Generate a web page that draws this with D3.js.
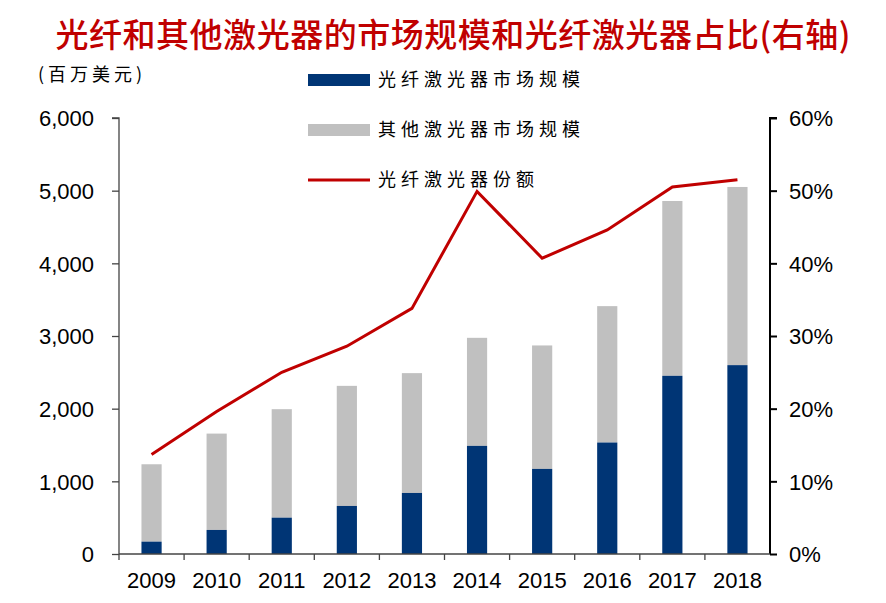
<!DOCTYPE html>
<html>
<head>
<meta charset="utf-8">
<script src="https://cdn.jsdelivr.net/npm/d3@7"></script>
<style>
  html, body { margin: 0; padding: 0; background: #fff; }
  svg { display: block; }
  .tick text { font-family: "Liberation Sans", Arial, sans-serif; font-size: 22px; fill: #000; }
</style>
</head>
<body>
<svg id="chart" width="886" height="603"></svg>
<script>
// data
const years = ["2009", "2010", "2011", "2012", "2013", "2014", "2015", "2016", "2017", "2018"];
const fiberSize = [170, 331, 500, 661, 840, 1488, 1171, 1534, 2452, 2599];
const totalSize = [1235, 1657, 1993, 2314, 2489, 2975, 2870, 3411, 4858, 5051];
const fiberShare = [13.7, 19.6, 25.0, 28.6, 33.8, 49.9, 40.7, 44.6, 50.5, 51.5];
const leftTicks = [0, 1000, 2000, 3000, 4000, 5000, 6000];
const rightTicks = [0, 10, 20, 30, 40, 50, 60];
const legendNames = ["光纤激光器市场规模", "其他激光器市场规模", "光纤激光器份额"];

const NAVY = "#003575", GRAY = "#c0c0c0", RED = "#c00000";
const cjk = '"Noto Sans CJK SC", "Noto Sans CJK JP", sans-serif';

const svg = d3.select("#chart");
const L = 119, R = 770, T = 118, B = 554;

const x = d3.scaleBand().domain(years).range([L, R]).paddingInner(0.69).paddingOuter(0.345);
const yL = d3.scaleLinear().domain([0, 6000]).range([B, T]);
const yR = d3.scaleLinear().domain([0, 60]).range([B, T]);

// title
svg.append("text").attr("x", 453).attr("y", 47).attr("text-anchor", "middle")
  .attr("font-family", cjk).attr("font-weight", 500).attr("font-size", 33).attr("fill", RED)
  .attr("textLength", 795).attr("lengthAdjust", "spacing")
  .text("光纤和其他激光器的市场规模和光纤激光器占比(右轴)");

svg.append("text").attr("x", 38).attr("y", 81)
  .attr("font-family", cjk).attr("font-size", 18).attr("fill", "#000").attr("letter-spacing", 4)
  .text("(百万美元)");

// bars: other (total) behind, fiber in front
const g = svg.append("g");
g.selectAll("rect.other").data(years).join("rect").attr("class", "other")
  .attr("x", d => x(d)).attr("width", x.bandwidth())
  .attr("y", (d, i) => yL(totalSize[i])).attr("height", (d, i) => yL(fiberSize[i]) - yL(totalSize[i]))
  .attr("fill", GRAY);
g.selectAll("rect.fiber").data(years).join("rect").attr("class", "fiber")
  .attr("x", d => x(d)).attr("width", x.bandwidth())
  .attr("y", (d, i) => yL(fiberSize[i])).attr("height", (d, i) => B - yL(fiberSize[i]))
  .attr("fill", NAVY);

// share line
const line = d3.line().x((d, i) => x(years[i]) + x.bandwidth() / 2).y(d => yR(d));
svg.append("path").datum(fiberShare).attr("d", line)
  .attr("fill", "none").attr("stroke", RED).attr("stroke-width", 3).attr("stroke-linejoin", "miter");

// axes
const axL = svg.append("g").attr("transform", `translate(${L},0)`)
  .call(d3.axisLeft(yL).tickValues(leftTicks).tickSize(7).tickPadding(18).tickFormat(d3.format(",")));
axL.select(".domain").attr("stroke", "#444").attr("stroke-width", 1.3).attr("d", `M-7,${T}H0V${B}`);
axL.selectAll(".tick line").attr("stroke", "#444").attr("stroke-width", 1.3);
axL.selectAll(".tick text").attr("dy", "0.36em");

const axR = svg.append("g").attr("transform", `translate(${R},0)`)
  .call(d3.axisRight(yR).tickValues(rightTicks).tickSize(7).tickPadding(12).tickFormat(d => d + "%"));
axR.select(".domain").attr("stroke", "#000").attr("stroke-width", 2).attr("d", `M7,${T}H0V${B}`);
axR.selectAll(".tick line").attr("stroke", "#000").attr("stroke-width", 2);
axR.selectAll(".tick text").attr("dy", "0.36em");

// x axis: ticks at band boundaries
const axB = svg.append("g").attr("transform", `translate(0,${B})`)
  .call(d3.axisBottom(x).tickSize(0).tickPadding(18));
axB.select(".domain").attr("stroke", "#444").attr("stroke-width", 1.3).attr("d", `M${L},0H${R}`);
axB.selectAll(".tick text").attr("dy", "0.71em");
const step = x.step();
axB.selectAll("line.bnd").data(d3.range(years.length)).join("line").attr("class", "bnd")
  .attr("x1", i => L + i * step).attr("x2", i => L + i * step)
  .attr("y1", 0).attr("y2", 6).attr("stroke", "#444").attr("stroke-width", 1.3);

// legend
const lg = svg.append("g");
const legY = [80, 130, 180];
[0, 1].forEach(i => {
  lg.append("rect").attr("x", 308).attr("y", legY[i] - 6).attr("width", 62).attr("height", 12)
    .attr("fill", i === 0 ? NAVY : GRAY);
});
lg.append("line").attr("x1", 308).attr("x2", 370).attr("y1", legY[2]).attr("y2", legY[2])
  .attr("stroke", RED).attr("stroke-width", 3);
legendNames.forEach((n, i) => {
  lg.append("text").attr("x", 378).attr("y", legY[i]).attr("dy", "0.36em")
    .attr("font-family", cjk).attr("font-size", 18).attr("letter-spacing", 5).attr("fill", "#000")
    .text(n);
});
</script>
</body>
</html>
